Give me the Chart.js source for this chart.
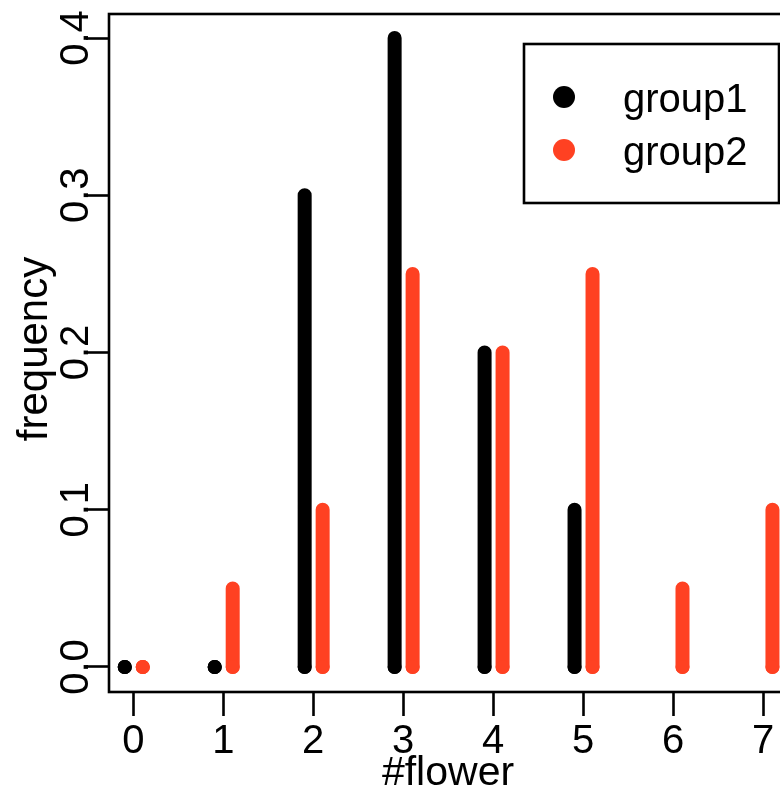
<!DOCTYPE html>
<html>
<head>
<meta charset="utf-8">
<script src="https://cdn.jsdelivr.net/npm/chart.js@4/dist/chart.umd.min.js"></script>
<style>
  html, body { margin: 0; padding: 0; background: #fff; overflow: hidden; }
  #wrap { width: 780px; height: 789px; overflow: hidden; }
</style>
</head>
<body>
<div id="wrap"><canvas id="flower-chart" width="800" height="789"></canvas></div>
<script>
const flowers = [0, 1, 2, 3, 4, 5, 6, 7];
const group1 = [0, 0, 0.3, 0.4, 0.2, 0.1, null, null];
const group2 = [0, 0.05, 0.1, 0.25, 0.2, 0.25, 0.05, 0.1];
const yTicks = [0, 0.1, 0.2, 0.3, 0.4];
const yTickLabels = ["0.0", "0.1", "0.2", "0.3", "0.4"];

const RED = "#ff4122";
const FONT = "'Liberation Sans', Arial, sans-serif";

// each count becomes a vertical segment from 0 up to its frequency, nudged sideways per group
const spikes = (values, shift) => {
  const pts = [];
  for (let i = 0; i < flowers.length; i++) {
    if (values[i] === null) continue;
    const x = flowers[i] + shift;
    pts.push({ x: x, y: 0 }, { x: x, y: values[i] }, { x: x, y: null });
  }
  return pts;
};

const spikeSet = (label, values, shift, color) => ({
  label: label,
  data: spikes(values, shift),
  showLine: true,
  spanGaps: false,
  borderColor: color,
  backgroundColor: color,
  borderWidth: 14,
  borderCapStyle: "round",
  pointRadius: (c) => (c.raw && c.raw.y === 0 ? 7 : 0),
  pointBorderWidth: 0,
  pointHoverRadius: 0,
});

// frame, rotated y labels, axis titles and boxed legend
const extras = {
  id: "extras",
  afterDraw(chart) {
    const { ctx, chartArea: a, scales } = chart;
    ctx.save();
    ctx.strokeStyle = "#000";
    ctx.lineWidth = 2.6;
    ctx.strokeRect(a.left, a.top, a.right - a.left, a.bottom - a.top);

    ctx.fillStyle = "#000";
    ctx.font = "40px " + FONT;
    ctx.textAlign = "center";
    ctx.textBaseline = "alphabetic";
    yTicks.forEach((v, i) => {
      const y = scales.y.getPixelForValue(v);
      ctx.save();
      ctx.translate(88, y);
      ctx.rotate(-Math.PI / 2);
      ctx.fillText(yTickLabels[i], 0, 0);
      ctx.restore();
    });

    ctx.font = "42px " + FONT;
    ctx.save();
    ctx.translate(47, 349);
    ctx.rotate(-Math.PI / 2);
    ctx.fillText("frequency", 0, 0);
    ctx.restore();
    ctx.font = "41px " + FONT;
    ctx.fillText("#flower", 448, 785);

    // legend
    ctx.lineWidth = 2.6;
    ctx.strokeRect(524, 44, 255, 159);
    ctx.textAlign = "left";
    ctx.font = "40px " + FONT;
    chart.data.datasets.forEach((ds, i) => {
      const cy = 97 + i * 53;
      ctx.fillStyle = ds.borderColor;
      ctx.beginPath();
      ctx.arc(564, cy, 11, 0, Math.PI * 2);
      ctx.fill();
      ctx.fillStyle = "#000";
      ctx.fillText(ds.label, 623, cy + 15);
    });
    ctx.restore();
  },
};

new Chart(document.getElementById("flower-chart"), {
  type: "scatter",
  data: {
    datasets: [
      spikeSet("group1", group1, -0.095, "#000000"),
      spikeSet("group2", group2, 0.105, RED),
    ],
  },
  options: {
    responsive: false,
    animation: false,
    devicePixelRatio: 1,
    layout: { padding: { top: 14, right: 10, left: 0, bottom: 0 } },
    plugins: {
      legend: { display: false },
      tooltip: { enabled: false },
    },
    scales: {
      x: {
        type: "linear",
        min: -0.27,
        max: 7.3,
        afterBuildTicks: (s) => { s.ticks = flowers.map((v) => ({ value: v })); },
        afterFit: (s) => { s.height = 97; },
        border: { display: false },
        grid: {
          drawOnChartArea: false,
          drawTicks: true,
          tickLength: 24,
          tickColor: "#000",
          tickWidth: 2.6,
        },
        ticks: {
          color: "#000",
          padding: 2,
          maxRotation: 0,
          font: { family: FONT, size: 40 },
          callback: (v) => String(v),
        },
      },
      y: {
        type: "linear",
        min: -0.0159,
        max: 0.4153,
        afterBuildTicks: (s) => { s.ticks = yTicks.map((v) => ({ value: v })); },
        afterFit: (s) => { s.width = 109; },
        border: { display: false },
        grid: {
          drawOnChartArea: false,
          drawTicks: true,
          tickLength: 23,
          tickColor: "#000",
          tickWidth: 2.6,
        },
        ticks: { display: false },
      },
    },
  },
  plugins: [extras],
});
</script>
</body>
</html>
